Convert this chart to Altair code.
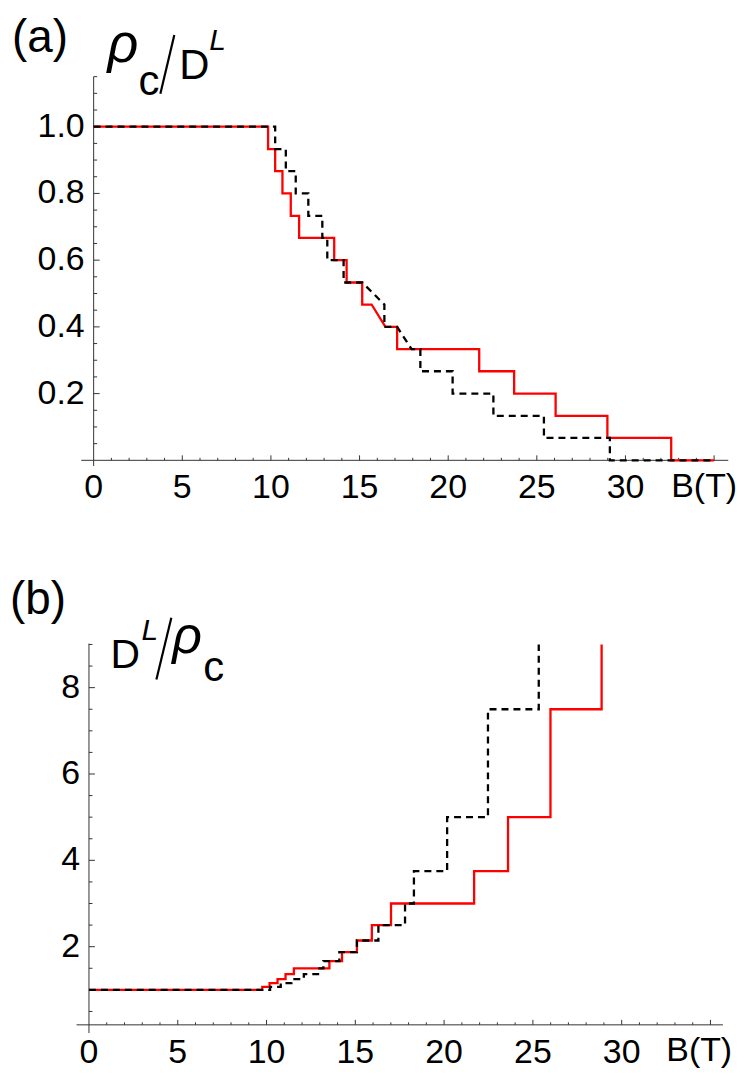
import altair as alt
import pandas as pd

FONT = "Liberation Sans"

# ---------------- data: panel (a)  rho_c / D^L -----------------
a_red_B = [0, 9.84, 9.84, 10.24, 10.24, 10.65, 10.65, 11.12, 11.12, 11.59, 11.59, 13.57, 13.57, 14.27, 14.27,
           15.15, 15.15, 15.68, 16.46, 17.12, 17.12, 21.75, 21.75, 23.72, 23.72, 26.06, 26.06, 28.98, 28.98,
           32.58, 32.58, 35.0]
a_red_v = [1.0, 1.0, 0.933, 0.933, 0.867, 0.867, 0.8, 0.8, 0.733, 0.733, 0.667, 0.667, 0.6, 0.6, 0.533,
           0.533, 0.467, 0.467, 0.4, 0.4, 0.333, 0.333, 0.267, 0.267, 0.2, 0.2, 0.133, 0.133, 0.067,
           0.067, 0.0, 0.0]
a_blk_B = [0, 10.24, 10.24, 10.84, 10.84, 11.40, 11.40, 12.11, 12.11, 12.90, 12.90, 13.18, 13.18, 14.1, 14.1,
           15.15, 16.4, 16.4, 17.12, 17.94, 18.43, 18.43, 20.25, 20.25, 22.55, 22.55, 25.4, 25.4, 29.12,
           29.12, 35.0]
a_blk_v = [1.0, 1.0, 0.933, 0.933, 0.867, 0.867, 0.8, 0.8, 0.733, 0.733, 0.667, 0.667, 0.6, 0.6, 0.533,
           0.533, 0.467, 0.4, 0.4, 0.333, 0.333, 0.267, 0.267, 0.2, 0.2, 0.133, 0.133, 0.067, 0.067,
           0.0, 0.0]

# ---------------- data: panel (b)  D^L / rho_c -----------------
b_red_B = [0, 9.76, 9.76, 10.17, 10.17, 10.62, 10.62, 11.07, 11.07, 11.54, 11.54, 13.54, 13.54, 14.25, 14.25,
           15.09, 15.09, 15.93, 15.93, 17.01, 17.01, 21.69, 21.69, 23.6, 23.6, 25.99, 25.99, 28.87, 28.87]
b_red_v = [1.0, 1.0, 1.071, 1.071, 1.154, 1.154, 1.25, 1.25, 1.364, 1.364, 1.5, 1.5, 1.667, 1.667, 1.875,
           1.875, 2.143, 2.143, 2.5, 2.5, 3.0, 3.0, 3.75, 3.75, 5.0, 5.0, 7.5, 7.5, 9.0]
b_blk_B = [0, 10.2, 10.2, 10.8, 10.8, 11.4, 11.4, 12.1, 12.1, 12.9, 12.9, 13.2, 13.2, 14.1, 14.1,
           15.09, 15.09, 16.3, 16.3, 17.8, 17.8, 18.3, 18.3, 20.17, 20.17, 22.47, 22.47, 25.33, 25.33]
b_blk_v = [1.0, 1.0, 1.071, 1.071, 1.154, 1.154, 1.25, 1.25, 1.364, 1.364, 1.5, 1.5, 1.667, 1.667, 1.875,
           1.875, 2.143, 2.143, 2.5, 2.5, 3.0, 3.0, 3.75, 3.75, 5.0, 5.0, 7.5, 7.5, 9.0]

# ---------------- ticks / labels -----------------
x_major = [5, 10, 15, 20, 25, 30, 35]
x_minor = [i for i in range(1, 35) if i % 5 != 0]
x_labels = [0, 5, 10, 15, 20, 25, 30]

a_y_major = [0.2, 0.4, 0.6, 0.8, 1.0]
a_y_minor = [0.05, 0.1, 0.15, 0.25, 0.3, 0.35, 0.45, 0.5, 0.55, 0.65, 0.7, 0.75, 0.85, 0.9, 0.95, 1.05, 1.1, 1.15]
a_y_labels = ["0.2", "0.4", "0.6", "0.8", "1.0"]

b_y_major = [2, 4, 6, 8]
b_y_minor = [0.5, 1, 1.5, 2.5, 3, 3.5, 4.5, 5, 5.5, 6.5, 7, 7.5, 8.5, 9]
b_y_labels = ["2", "4", "6", "8"]

W = 730
AXIS_COLOR = "#333333"
one = pd.DataFrame({"d": [0]})


def panel(xdom, ydom, H, red_B, red_v, blk_B, blk_v, y_major, y_minor, y_labels,
          x_axis_v, x_axis_span, y_axis_span, tag, tag_pos, title_parts, slash, bt_pos):
    xs = alt.Scale(domain=xdom, nice=False, zero=False)
    ys = alt.Scale(domain=ydom, nice=False, zero=False)

    def X(f):
        return alt.X(f, type="quantitative", scale=xs, axis=None)

    def Y(f):
        return alt.Y(f, type="quantitative", scale=ys, axis=None)

    red = pd.DataFrame({"B": red_B, "v": red_v, "i": range(len(red_B))})
    blk = pd.DataFrame({"B": blk_B, "v": blk_v, "i": range(len(blk_B))})

    layers = []
    # axis lines
    layers.append(alt.Chart(one).mark_rule(color=AXIS_COLOR, strokeWidth=1).encode(
        x=alt.XDatum(x_axis_span[0], scale=xs, axis=None), x2=alt.X2Datum(x_axis_span[1]),
        y=alt.YDatum(x_axis_v, scale=ys, axis=None)))
    layers.append(alt.Chart(one).mark_rule(color=AXIS_COLOR, strokeWidth=1).encode(
        y=alt.YDatum(y_axis_span[0], scale=ys, axis=None), y2=alt.Y2Datum(y_axis_span[1]),
        x=alt.XDatum(0, scale=xs, axis=None)))
    # x ticks (inward, upward)
    for vals, ln in ((x_major, 5), (x_minor, 2.5)):
        layers.append(alt.Chart(pd.DataFrame({"B": vals})).mark_rule(
            color=AXIS_COLOR, strokeWidth=1, y2Offset=-ln).encode(
            x=X("B"), y=alt.YDatum(x_axis_v, scale=ys, axis=None), y2=alt.Y2Datum(x_axis_v)))
    # y ticks (inward, to the right)
    for vals, ln in ((y_major, 6), (y_minor, 3.5)):
        layers.append(alt.Chart(pd.DataFrame({"v": vals})).mark_rule(
            color=AXIS_COLOR, strokeWidth=1, x2Offset=ln).encode(
            y=Y("v"), x=alt.XDatum(0, scale=xs, axis=None), x2=alt.X2Datum(0)))
    # tick labels
    layers.append(alt.Chart(pd.DataFrame({"B": x_labels, "t": [str(k) for k in x_labels]})).mark_text(
        font=FONT, fontSize=34, baseline="alphabetic", align="center", dy=38, color="black").encode(
        x=X("B"), y=alt.YDatum(x_axis_v, scale=ys, axis=None), text="t:N"))
    layers.append(alt.Chart(pd.DataFrame({"v": y_major, "t": y_labels})).mark_text(
        font=FONT, fontSize=34, baseline="middle", align="right", dx=-9, color="black").encode(
        y=Y("v"), x=alt.XDatum(0, scale=xs, axis=None), text="t:N"))
    # curves
    layers.append(alt.Chart(red).mark_line(color="#ff0000", strokeWidth=2.3).encode(
        x=X("B"), y=Y("v"), order="i:Q"))
    layers.append(alt.Chart(blk).mark_line(color="black", strokeWidth=2.3, strokeDash=[7, 5]).encode(
        x=X("B"), y=Y("v"), order="i:Q"))
    # annotations
    layers.append(alt.Chart(one).mark_text(text=tag, font=FONT, fontSize=46, align="left",
                                           baseline="alphabetic", color="black").encode(
        x=alt.value(tag_pos[0]), y=alt.value(tag_pos[1])))
    for txt, px, py, fs, style in title_parts:
        layers.append(alt.Chart(one).mark_text(text=txt, font=FONT, fontSize=fs, fontStyle=style,
                                               align="left", baseline="alphabetic", color="black").encode(
            x=alt.value(px), y=alt.value(py)))
    layers.append(alt.Chart(one).mark_rule(color="black", strokeWidth=2.2).encode(
        x=alt.value(slash[0]), y=alt.value(slash[1]), x2=alt.value(slash[2]), y2=alt.value(slash[3])))
    layers.append(alt.Chart(one).mark_text(text="B(T)", font=FONT, fontSize=34, align="left",
                                           baseline="alphabetic", color="black").encode(
        x=alt.value(bt_pos[0]), y=alt.value(bt_pos[1])))
    return alt.layer(*layers).properties(width=W, height=H)


pa = panel([-4.8315, 36.1798], [-0.13433, 1.34925], 497,
           a_red_B, a_red_v, a_blk_B, a_blk_v, a_y_major, a_y_minor, a_y_labels,
           0.0, (-0.7, 35.8), (-0.017, 1.15), "(a)", (4, 42),
           [("ρ", 100, 52, 54, "italic"), ("c", 131, 85, 42, "normal"),
            ("D", 172, 69, 42, "normal"), ("L", 202, 40, 30, "italic")],
           (153, 84, 167, 25),
           (666, 489))

pb = panel([-4.5597, 36.3825], [-0.806, 12.089], 559,
           b_red_B, b_red_v, b_blk_B, b_blk_v, b_y_major, b_y_minor, b_y_labels,
           0.19, (-0.7, 35.7), (0.0, 9.02), "(b)", (2, 103),
           [("D", 103, 158, 41, "normal"), ("L", 134, 129, 30, "italic"),
            ("ρ", 165, 142, 52, "italic"), ("c", 196, 171, 42, "normal")],
           (149, 169, 164, 107),
           (661, 552))

chart = alt.vconcat(pa, pb, spacing=6).properties(padding=0).configure_view(stroke=None)
chart.save("out.html", embed_options={"renderer": "svg", "actions": False})
